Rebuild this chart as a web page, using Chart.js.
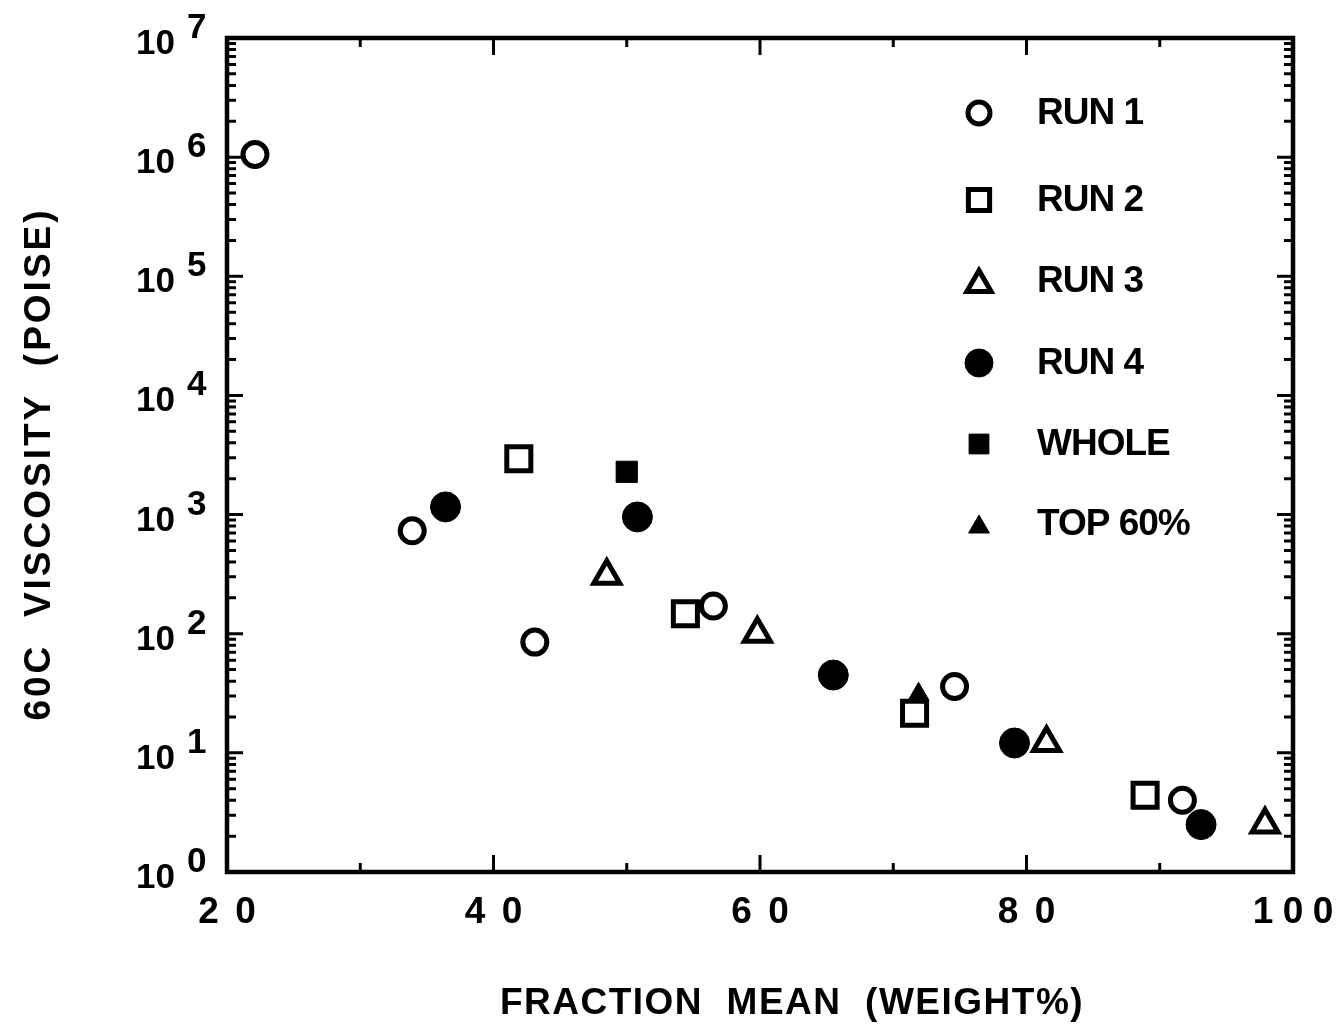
<!DOCTYPE html>
<html>
<head>
<meta charset="utf-8">
<script src="https://cdn.jsdelivr.net/npm/chart.js@4/dist/chart.umd.min.js"></script>
<style>
  html, body { margin: 0; padding: 0; background: #fff; }
  #wrap { width: 1344px; height: 1024px; }
</style>
</head>
<body>
<div id="wrap"><canvas id="chart" width="1344" height="1024"></canvas></div>
<script>
// values (x = fraction mean wt%, y = 60C viscosity, poise)
const run1X = [22.1, 33.9, 43.1, 56.5, 74.6, 91.7];
const run1Y = [1.05e6, 730, 85, 171, 36, 4.0];
const run2X = [41.9, 54.4, 71.6, 88.9];
const run2Y = [2940, 147, 21.5, 4.4];
const run3X = [48.5, 59.8, 81.5, 97.9];
const run3Y = [306, 100, 12.1, 2.5];
const run4X = [36.4, 50.8, 65.5, 79.1, 93.1];
const run4Y = [1160, 955, 45, 12.1, 2.5];
const wholeX = [50.0];
const wholeY = [2285];
const top60X = [71.9];
const top60Y = [31];

const seriesNames = ["RUN 1", "RUN 2", "RUN 3", "RUN 4", "WHOLE", "TOP 60%"];
const xTicks = [20, 40, 60, 80, 100];
const xMinorTicks = [30, 50, 70, 90];
const yDecades = [0, 1, 2, 3, 4, 5, 6, 7];

const FONT = "'Liberation Sans', Arial, Helvetica, sans-serif";

const pts = (xs, ys) => xs.map((x, i) => ({ x: x, y: ys[i] }));

// inward ticks, frame, labels and legend drawn over the library's scales
const framePlugin = {
  id: "frame",
  afterDraw(chart) {
    const ctx = chart.ctx;
    const a = chart.chartArea;
    const xs = chart.scales.x;
    const ys = chart.scales.y;
    ctx.save();
    ctx.strokeStyle = "#000";
    ctx.fillStyle = "#000";
    ctx.lineCap = "butt";

    // ticks
    ctx.lineWidth = 3;
    ctx.beginPath();
    xTicks.forEach(v => {
      const px = xs.getPixelForValue(v);
      ctx.moveTo(px, a.bottom); ctx.lineTo(px, a.bottom - 17);
      ctx.moveTo(px, a.top); ctx.lineTo(px, a.top + 17);
    });
    xMinorTicks.forEach(v => {
      const px = xs.getPixelForValue(v);
      ctx.moveTo(px, a.bottom); ctx.lineTo(px, a.bottom - 9);
      ctx.moveTo(px, a.top); ctx.lineTo(px, a.top + 9);
    });
    yDecades.forEach(d => {
      const py = ys.getPixelForValue(Math.pow(10, d));
      ctx.moveTo(a.left, py); ctx.lineTo(a.left + 16, py);
      ctx.moveTo(a.right, py); ctx.lineTo(a.right - 16, py);
      if (d < 7) {
        for (let m = 2; m <= 9; m++) {
          const pm = ys.getPixelForValue(m * Math.pow(10, d));
          ctx.moveTo(a.left, pm); ctx.lineTo(a.left + 9, pm);
          ctx.moveTo(a.right, pm); ctx.lineTo(a.right - 9, pm);
        }
      }
    });
    ctx.stroke();

    // frame
    ctx.lineWidth = 4.5;
    ctx.strokeRect(a.left, a.top, a.right - a.left, a.bottom - a.top);

    // y tick labels 10^n
    yDecades.forEach(d => {
      const py = ys.getPixelForValue(Math.pow(10, d));
      ctx.font = "bold 35px " + FONT;
      ctx.textAlign = "right";
      ctx.textBaseline = "alphabetic";
      ctx.fillText("10", a.left - 52, py + 16);
      ctx.textAlign = "left";
      ctx.fillText(String(d), a.left - 40, py);
    });

    // x tick labels with spaced digits
    ctx.font = "bold 37px " + FONT;
    ctx.textAlign = "center";
    ctx.textBaseline = "alphabetic";
    xTicks.forEach(v => {
      const s = String(v);
      const step = s.length > 2 ? 30 : 37;
      const px = xs.getPixelForValue(v);
      for (let i = 0; i < s.length; i++) {
        ctx.fillText(s[i], px + (i - (s.length - 1) / 2) * step, a.bottom + 51);
      }
    });

    // axis titles
    ctx.font = "bold 37px " + FONT;
    ctx.letterSpacing = "1.5px";
    ctx.textAlign = "center";
    ctx.fillText("FRACTION  MEAN  (WEIGHT%)", 792, 1014);
    ctx.save();
    ctx.translate(50, 464);
    ctx.rotate(-Math.PI / 2);
    ctx.letterSpacing = "3px";
    ctx.fillText("60C  VISCOSITY  (POISE)", 0, 0);
    ctx.restore();
    ctx.letterSpacing = "0px";

    // legend
    const legendY = [113, 200, 281, 363, 444, 524];
    chart.data.datasets.forEach((ds, i) => {
      ctx.fillStyle = ds.pointBackgroundColor;
      ctx.strokeStyle = ds.pointBorderColor;
      ctx.lineWidth = ds.pointBorderWidth;
      const dy = ds.pointStyle === "triangle" ? ds.legendRadius / 4 : 0;
      Chart.helpers.drawPoint(ctx, {
        pointStyle: ds.pointStyle,
        radius: ds.legendRadius,
        borderWidth: ds.pointBorderWidth,
        rotation: 0
      }, 979, legendY[i] + dy);
      ctx.fillStyle = "#000";
      ctx.font = "bold 37px " + FONT;
      ctx.letterSpacing = "-1px";
      ctx.textAlign = "left";
      ctx.textBaseline = "middle";
      ctx.fillText(seriesNames[i], 1037, legendY[i] + 1);
      ctx.letterSpacing = "0px";
    });
    ctx.restore();
  }
};

const mk = (label, data, style, radius, filled, legendRadius) => ({
  label: label,
  data: data,
  pointStyle: style,
  pointRadius: radius,
  pointHoverRadius: radius,
  legendRadius: legendRadius,
  pointBorderWidth: filled ? 1 : 5,
  borderWidth: filled ? 1 : 5,
  pointBorderColor: "#000",
  pointBackgroundColor: filled ? "#000" : "#fff",
  showLine: false,
  clip: false
});

new Chart(document.getElementById("chart").getContext("2d"), {
  type: "scatter",
  data: {
    datasets: [
      mk(seriesNames[0], pts(run1X, run1Y), "circle", 12, false, 11),
      mk(seriesNames[1], pts(run2X, run2Y), "rect", 17, false, 15),
      mk(seriesNames[2], pts(run3X, run3Y), "triangle", 15, false, 14),
      mk(seriesNames[3], pts(run4X, run4Y), "circle", 15, true, 14),
      mk(seriesNames[4], pts(wholeX, wholeY), "rect", 15, true, 14),
      mk(seriesNames[5], pts(top60X, top60Y), "triangle", 12, true, 12)
    ]
  },
  options: {
    responsive: false,
    animation: false,
    events: [],
    layout: { padding: { left: 227, top: 38, right: 51, bottom: 152 } },
    plugins: {
      legend: { display: false },
      tooltip: { enabled: false }
    },
    scales: {
      x: { type: "linear", min: 20, max: 100, display: false },
      y: { type: "logarithmic", min: 1, max: 1e7, display: false }
    }
  },
  plugins: [framePlugin]
});
</script>
</body>
</html>
